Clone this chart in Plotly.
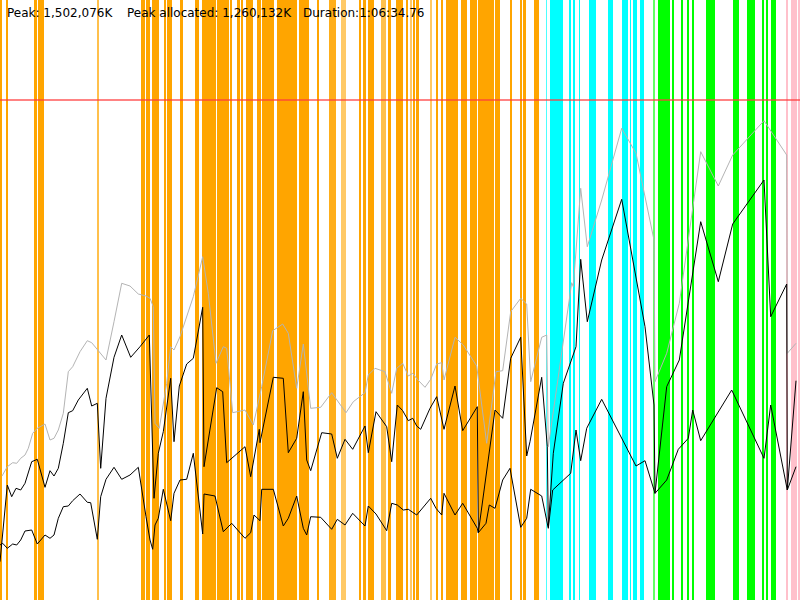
import plotly.graph_objects as go

# ---- memory samples (x = time in screen units 0..800, y = memory units 0..600) ----
total_x = [2, 7.3, 12.7, 16.7, 20.7, 25, 28.3, 32.7, 37.3, 45, 50, 54, 58.3, 63.3, 68.3, 72.7, 80, 87.3,
           91.7, 100, 106, 114, 121.7, 130, 138.3, 146, 150, 153.3, 155, 159.3, 166.7, 170.7, 174, 180,
           186.7, 193.3, 202.7, 208.3, 216, 223.3, 226.7, 232.7, 245, 253.3, 261.7,
           272.7, 282.7, 288.3, 296.7, 303.3, 310.7, 320.7, 331.7, 346, 353.3, 365, 368.3, 375, 385,
           391.7, 396.7, 402.7, 408.3, 412.7, 417.3, 425, 430.7, 436.7, 441.7, 444, 455, 463.3, 476.7,
           486.7, 496, 502.7, 510.7, 520.7, 526.7, 530.7,
           541.7, 546.7, 548.3, 571.7, 573.3, 580.7, 587.3, 601.7, 621.7, 636, 654, 655, 666.7, 679.3,
           700.7, 718.3, 732.7, 764, 786.7, 787.3, 796]
total_y = [124, 133.3, 137.3, 136.7, 141.7, 145, 151.7, 166.7, 171.7, 176, 160, 161.7, 170, 186.7, 228.3,
           233.3, 248.3, 259.3, 257.3, 246.7, 240, 278.3, 316.7, 314, 306, 304, 301.7, 293.3, 176.7,
           171.7, 216.7, 253.3, 250, 263.3, 283.3, 303.3, 343.3, 306.7, 236.7, 253.3, 251.7, 187.3,
           190, 175, 213.3,
           269.3, 276, 266.7, 211.7, 256, 191.7, 192.7, 207.3, 187.3, 198.3, 207.3, 225, 231.7, 228.3,
           206.7, 231.7, 236.7, 224, 226.7, 220.7, 212.7, 220.7, 236, 237.3, 220, 262.7, 255, 234,
           156.7, 228.3, 229.3, 288.3, 301.7, 296, 218.3,
           262.7, 265, 153.3, 317.3, 313.3, 411.7, 353.3, 400, 471.7, 446.7, 360, 218.3, 246.7, 296.7,
           448.3, 414, 445, 479.3, 445, 246.7, 256.7]

alloc_x = [0, 7.3, 11.7, 16, 20.7, 25, 31.7, 37.3, 45, 50, 54, 58.3, 63.3, 68.3, 72.7, 78.3, 87.3, 91.7,
           97.3, 100.7, 106, 114, 121.7, 130.7, 140, 149.3, 154, 158.3, 163.3, 170.7, 174, 179.3, 186.7,
           193.3, 202.7, 204, 216.7, 222.7, 226.7, 245, 250.7, 259.3,
           260, 273.3, 283.3, 288.3, 296.7, 303.3, 306.7, 310.7, 321.7, 331.7, 337.3, 345, 352.7, 365,
           368.3, 376, 386.7, 391.7, 397.3, 402.7, 408.3, 412.7, 416.7, 420.7, 430, 436.7, 444, 455,
           462.7, 477.3, 478.3, 495, 502.7, 510.7, 520.7, 526.7,
           530, 541.7, 547.3, 548.3, 553.3, 563.3, 576, 580.7, 587.3, 601.7, 621.7, 645, 654, 655, 666.7,
           679.3, 700.7, 718.3, 732.7, 764, 770.7, 786.7, 787.3, 796]
alloc_y = [38.3, 115, 103.3, 111.7, 110, 116.7, 138.3, 140.7, 112.7, 129.3, 124, 131.7, 156.7, 187.3,
           189.3, 200, 211.7, 194, 196.7, 131.7, 201.7, 242.7, 265, 242.7, 253.3, 265, 101.7, 146.7,
           168.3, 221.7, 158.3, 214, 236, 241.7, 292.7, 133.3, 212.3, 208.3, 137.3, 153.3, 123.3, 170.7,
           157.3, 222.7, 221.7, 147.3, 161.7, 208.3, 140, 129.3, 167.3, 166, 141.7, 160.7, 150.7, 174,
           147.3, 188.3, 173.3, 138.3, 195, 189.3, 179.3, 181.7, 174, 170.7, 191.7, 203.3, 170.7, 214,
           169.3, 193.3, 67.3, 190, 181.7, 241.7, 262.7, 144,
           158.3, 222.7, 153.3, 73.3, 146.7, 216.7, 253.3, 340.7, 278.3, 340, 400.7, 273.3, 195, 106.7,
           213.3, 240, 378.3, 318.3, 376, 420, 283.3, 316, 110, 219.3]

live_x = [0, 2.7, 7.3, 12.7, 16.7, 20.7, 25, 31.7, 37.3, 45, 50, 54, 58.3, 63.3, 68.3, 72.7, 80, 87.3,
          90.7, 97.3, 100.7, 106, 114, 121.7, 130, 138.3, 146, 150, 152.7, 155, 158.3, 163.3, 170.7, 174,
          180, 186.7, 193.3, 202.7, 204, 215, 223.3, 231.7, 245, 250.7, 254, 260, 261.7,
          273.3, 283.3, 288.3, 296.7, 303.3, 306.7, 310.7, 320.7, 331.7, 337.3, 345, 352.7, 365, 368.3,
          376, 386.7, 391.7, 397.3, 403.3, 408.3, 416.7, 430.7, 436, 441.7, 444, 455, 462.7, 477.3,
          478.3, 486, 489.3, 495, 502.7, 510, 520.7, 526.7, 530.7,
          541.7, 548.3, 552.7, 570.7, 576, 580.7, 586.7, 601.7, 636, 645, 655, 666.7, 678.3, 688.3,
          692.7, 700.7, 731.7, 764, 770.7, 787.3, 796]
live_y = [55, 56.7, 51.7, 56, 55, 60, 69, 70, 56, 65, 61.7, 65, 81.7, 93.3, 94, 99.3, 106, 97.7, 97.3,
          60.7, 103.3, 120.7, 132.7, 120.7, 125, 132.7, 83.3, 60, 50.7, 75, 81.7, 110.7, 79.3, 106.7,
          120, 120.7, 146.7, 66, 106, 104, 68.3, 76.7, 61.7, 67.3, 85, 79.3, 110.7,
          110.7, 74, 81.7, 104, 71.7, 65, 83.3, 82.7, 70.7, 80.7, 75, 86.7, 74, 94,
          86, 69.3, 96.7, 95, 90, 90.7, 85, 101.7, 91.7, 85, 106.7, 85, 96.7, 71.7,
          67.3, 76.7, 95, 91.7, 120, 131.7, 72.7, 81.7, 110.7,
          104, 71.7, 110, 126.7, 170, 139.3, 171.7, 200.7, 134, 139.3, 106.7, 120, 150.7, 161.7,
          190, 159.3, 210, 141.7, 195, 110, 133.3]

limit_y = 500

# ---- phase bands: start, end, phase kind, strength ----
band_start = [0, 6, 34, 37.7, 97, 141, 146, 151.7, 156.3, 164, 166.7, 180, 195,
              201.7, 217.3, 230, 237.3, 241.3, 245.7, 257.3, 262, 277.3, 299, 307.7, 317.3, 329, 340.7,
              359.3, 362.7, 368, 381.3, 387.7, 396, 406, 410, 413.3, 416, 430, 436.7, 441.3, 446, 461,
              470, 477.7, 495, 510, 520, 523.3, 534,
              546, 550, 568.7, 572.7, 579, 589.3, 608.3, 621.7, 630, 633.3, 640,
              652.7, 657.7, 671.7, 681.7, 686.7, 692.7, 706, 732.7, 747.3, 762.7, 765.7, 770.7,
              786, 790.7, 798.3]
band_end = [2, 7.7, 37.3, 44, 99, 145.3, 150, 155.7, 159, 166.3, 172, 183, 199,
            216, 229, 231.7, 240, 243.3, 253.3, 261, 274, 297.3, 306.7, 309, 319, 336, 345.7,
            361, 365.7, 374, 386, 391, 403, 407.3, 412, 414.7, 419, 432, 438, 442.7, 458.3, 466.7,
            476.7, 494, 500, 512, 522, 526, 539.3,
            547.3, 563.3, 570.7, 575, 580, 596, 613.3, 628.3, 631, 637.3, 644,
            655, 670, 674, 683.3, 689.3, 694, 715, 739, 755.3, 764.3, 767.7, 776,
            787.3, 796.7, 800]
band_kind = ["o"] * 49 + ["c"] * 11 + ["g"] * 12 + ["p"] * 3
band_alpha = [1, 1, 1, 1, 0.7, 1, 1, 1, 1, 1, 1, 1, 1,
              1, 1, 1, 1, 1, 1, 1, 1, 1, 1, 1, 1, 0.9, 0.6,
              1, 1, 1, 0.7, 1, 1, 1, 0.6, 1, 1, 0.6, 1, 1, 1, 1,
              1, 1, 1, 1, 1, 1, 1,
              0.7, 1, 1, 1, 1, 1, 1, 1, 1, 1, 1,
              0.6, 1, 1, 1, 1, 1, 1, 1, 1, 1, 1, 1,
              1, 1, 1]

kind_rgb = {"o": (255, 165, 0), "c": (0, 255, 255), "g": (0, 255, 0), "p": (255, 192, 203)}

fig = go.Figure()

# bands as full-height bars
centers = [(a + b) / 2 for a, b in zip(band_start, band_end)]
widths = [b - a for a, b in zip(band_start, band_end)]
colors = ["rgba(%d,%d,%d,%.2f)" % (kind_rgb[k] + (al,)) for k, al in zip(band_kind, band_alpha)]
fig.add_trace(go.Bar(
    x=centers, y=[600] * len(centers), width=widths, base=0,
    marker=dict(color=colors, line=dict(width=0)),
    hoverinfo="skip", showlegend=False
))

fig.add_trace(go.Scatter(x=total_x, y=total_y, mode="lines",
                         line=dict(color="#b4b4b4", width=1), showlegend=False))
fig.add_trace(go.Scatter(x=alloc_x, y=alloc_y, mode="lines",
                         line=dict(color="#000000", width=1), showlegend=False))
fig.add_trace(go.Scatter(x=live_x, y=live_y, mode="lines",
                         line=dict(color="#000000", width=1), showlegend=False))

# limit line
fig.add_trace(go.Scatter(x=[0, 800], y=[limit_y, limit_y], mode="lines",
                         line=dict(color="rgba(255,60,60,0.85)", width=1.3), showlegend=False))

labels = ["Peak: 1,502,076K", "Peak allocated: 1,260,132K", "Duration:1:06:34.76"]
label_x = [5, 125, 301]
for txt, lx in zip(labels, label_x):
    fig.add_annotation(text=txt, x=lx / 800, y=1 - 13 / 600, xref="paper", yref="paper",
                       xanchor="left", yanchor="middle", showarrow=False,
                       font=dict(family="DejaVu Sans", size=12, color="#000000"))

fig.update_layout(
    width=800, height=600,
    margin=dict(l=0, r=0, t=0, b=0),
    plot_bgcolor="white", paper_bgcolor="white",
    xaxis=dict(range=[0, 800], visible=False, fixedrange=True),
    yaxis=dict(range=[0, 600], visible=False, fixedrange=True),
    bargap=0,
)

# page body has a default margin; drop it so the figure fills the window
fig.write_html("out.html", config={"displayModeBar": False},
               post_script="document.body.style.margin='0';document.body.style.overflow='hidden';")
